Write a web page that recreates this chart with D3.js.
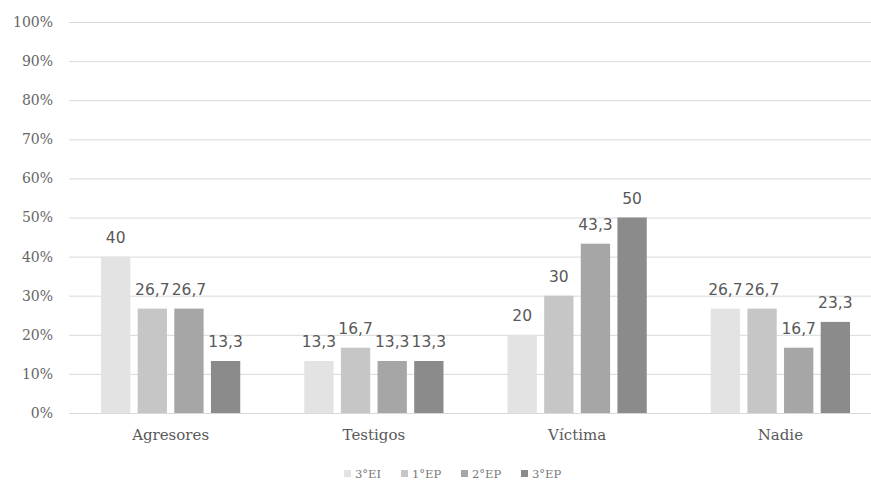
<!DOCTYPE html>
<html><head><meta charset="utf-8">
<script src="https://cdn.jsdelivr.net/npm/d3@7"></script>
<style>html,body{margin:0;padding:0;background:#fff;}svg{display:block;}</style>
</head><body>
<svg id="c" width="871" height="482"></svg>
<script>
const categories = ["Agresores", "Testigos", "Víctima", "Nadie"];
const seriesNames = ["3°EI", "1°EP", "2°EP", "3°EP"];
const s3EI = [40, 13.3, 20, 26.7];
const s1EP = [26.7, 16.7, 30, 26.7];
const s2EP = [26.7, 13.3, 43.3, 16.7];
const s3EP = [13.3, 13.3, 50, 23.3];
const yTicks = [0, 10, 20, 30, 40, 50, 60, 70, 80, 90, 100];
const seriesValues = [s3EI, s1EP, s2EP, s3EP];
const colors = ["#e3e3e3", "#c6c6c6", "#a6a6a6", "#8b8b8b"];

const svg = d3.select("#c");
const y = d3.scaleLinear().domain([0, 100]).range([413, 22]);
const x0 = d3.scaleBand().domain(categories).range([69, 882]).padding(0);
const x1 = d3.scaleBand().domain(seriesNames).range([32, x0.bandwidth() - 32]).paddingInner(0.2);
const color = d3.scaleOrdinal().domain(seriesNames).range(colors);

// gridlines + y labels
const yAxis = d3.axisLeft(y).tickValues(yTicks).tickSize(-(871 - 69)).tickFormat(d => d + "%").tickPadding(16);
const gy = svg.append("g").attr("transform", "translate(69,0)").call(yAxis);
gy.select(".domain").remove();
gy.selectAll(".tick line").attr("stroke", "#d9d9d9").attr("stroke-width", 1);
gy.selectAll(".tick text").attr("fill", "#666").attr("font-family", "DejaVu Serif").attr("font-size", 14);

// bars
const data = [];
categories.forEach((c, i) => seriesNames.forEach((s, j) => data.push({c, s, v: seriesValues[j][i]})));
const bars = svg.append("g");
bars.selectAll("rect").data(data).join("rect")
  .attr("x", d => x0(d.c) + x1(d.s))
  .attr("width", x1.bandwidth())
  .attr("y", d => y(d.v))
  .attr("height", d => y(0) - y(d.v))
  .attr("fill", d => color(d.s));

bars.selectAll("text").data(data).join("text")
  .attr("x", d => x0(d.c) + x1(d.s) + x1.bandwidth() / 2)
  .attr("y", d => y(d.v) - 14)
  .attr("text-anchor", "middle")
  .attr("fill", "#595959")
  .attr("font-family", "DejaVu Sans")
  .attr("font-size", 15.5)
  .text(d => String(d.v).replace(".", ","));

// x axis labels
const xAxis = d3.axisBottom(x0).tickSize(0).tickPadding(16);
const gx = svg.append("g").attr("transform", "translate(0,413)").call(xAxis);
gx.select(".domain").remove();
gx.selectAll(".tick text").attr("fill", "#595959").attr("font-family", "DejaVu Serif").attr("font-size", 15);

// legend
const legX = [344, 401, 461, 521];
const leg = svg.append("g").selectAll("g").data(seriesNames).join("g")
  .attr("transform", (d, i) => `translate(${legX[i]},474)`);
leg.append("rect").attr("x", 0).attr("y", -4).attr("width", 7).attr("height", 7).attr("fill", d => color(d));
leg.append("text").attr("x", 11).attr("y", 4).attr("fill", "#777")
  .attr("font-family", "DejaVu Serif").attr("font-size", 11.5).text(d => d);
</script>
</body></html>
